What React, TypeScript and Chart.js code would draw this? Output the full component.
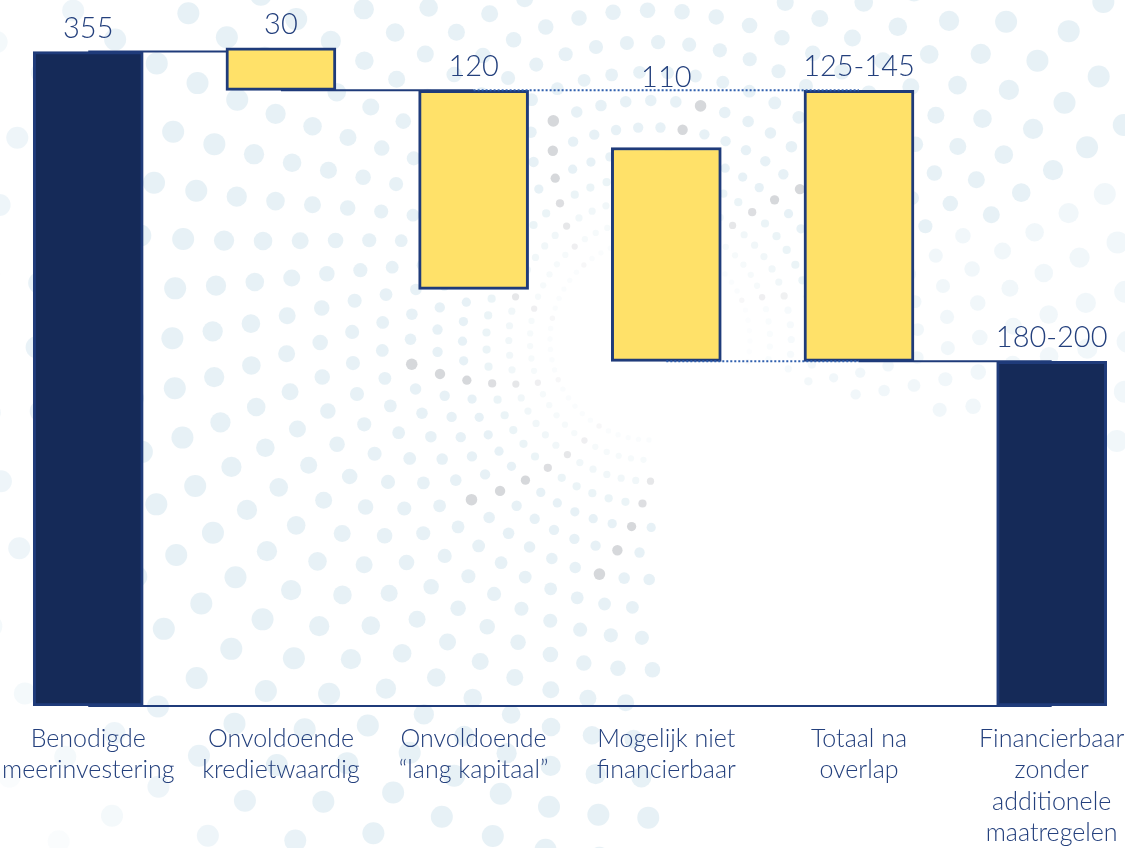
import { useEffect, useRef } from 'react';
import { Chart, registerables } from 'chart.js';

Chart.register(...registerables);

// ---- data ----
const categories: string[][] = [
  ['Benodigde', 'meerinvestering'],
  ['Onvoldoende', 'kredietwaardig'],
  ['Onvoldoende', '\u201Clang kapitaal\u201D'],
  ['Mogelijk niet', 'financierbaar'],
  ['Totaal na', 'overlap'],
  ['Financierbaar', 'zonder', 'additionele', 'maatregelen'],
];
const barLow = [0, 334, 226, 187, 187, 0];
const barHigh = [355, 357, 334, 303, 334, 187];
const valueLabels = ['355', '30', '120', '110', '125-145', '180-200'];
const barKind = ['total', 'change', 'change', 'change', 'change', 'total'];
const connectors = [
  { from: 0, level: 'high', to: 1, dotted: false },
  { from: 1, level: 'low', to: 2, dotted: false },
  { from: 2, level: 'high', to: 4, dotted: true },
  { from: 3, level: 'low', to: 4, dotted: true },
  { from: 4, level: 'low', to: 5, dotted: false },
  { from: 0, level: 'low', to: 5, dotted: false },
];

// ---- styles ----
const NAVY = '#152a58';
const BORDER = '#1f3b7a';
const YELLOW = '#ffe169';
const TEXT = '#24407d';
const DOTTED = '#2f5fae';
const FONT = 'Lato';

function drawDots(ctx: CanvasRenderingContext2D, cx: number, cy: number) {
  const N = 60;
  for (let k = 0; k < N; k++) {
    const a0 = (k / N) * Math.PI * 2;
    let r = 100;
    while (r < 900) {
      const a = a0 + r * 0.0022;
      const x = cx + r * Math.cos(a);
      const y = cy + r * Math.sin(a);
      const deg = (((a * 180) / Math.PI) % 360 + 360) % 360;
      let w = 1;
      if (deg > 15 && deg < 88) w = 0;
      else if (deg >= 340 || deg <= 15) w = 0.6;
      const fade = r > 600 ? Math.max(0, 1 - (r - 600) / 220) : 1;
      const near = r < 180 ? (r - 80) / 100 : 1;
      const alpha = w * fade * near;
      if (alpha > 0.02 && x > -20 && x < 1180 && y > -20 && y < 870) {
        const rad = Math.min(0.5 + r * 0.022, 11);
        ctx.fillStyle =
          r > 90 && r < 260 && k % 6 === 0
            ? `rgba(165,168,175,${0.45 * alpha})`
            : `rgba(208,228,237,${0.5 * alpha})`;
        ctx.beginPath();
        ctx.arc(x, y, rad, 0, Math.PI * 2);
        ctx.fill();
      }
      r = r * 1.06 + 14;
    }
  }
}

const waterfallPlugin = {
  id: 'waterfallDecor',
  beforeDraw(chart: any) {
    const ctx = chart.ctx as CanvasRenderingContext2D;
    ctx.save();
    drawDots(ctx, 665, 340);
    ctx.restore();
  },
  beforeDatasetsDraw(chart: any) {
    const ctx = chart.ctx as CanvasRenderingContext2D;
    const meta = chart.getDatasetMeta(0);
    const ys = chart.scales.y;
    ctx.save();
    ctx.strokeStyle = BORDER;
    ctx.lineWidth = 2;
    connectors.forEach((c) => {
      if (c.dotted) return;
      const v = c.level === 'high' ? barHigh[c.from] : barLow[c.from];
      const y = ys.getPixelForValue(v);
      ctx.beginPath();
      ctx.moveTo(meta.data[c.from].x, y);
      ctx.lineTo(meta.data[c.to].x, y);
      ctx.stroke();
    });
    ctx.restore();
  },
  afterDatasetsDraw(chart: any) {
    const ctx = chart.ctx as CanvasRenderingContext2D;
    const meta = chart.getDatasetMeta(0);
    const ys = chart.scales.y;
    ctx.save();
    ctx.strokeStyle = DOTTED;
    ctx.lineWidth = 2;
    ctx.setLineDash([2, 2]);
    connectors.forEach((c) => {
      if (!c.dotted) return;
      const v = c.level === 'high' ? barHigh[c.from] : barLow[c.from];
      const y = ys.getPixelForValue(v);
      ctx.beginPath();
      ctx.moveTo(meta.data[c.from].x, y);
      ctx.lineTo(meta.data[c.to].x, y);
      ctx.stroke();
    });
    ctx.setLineDash([]);

    ctx.fillStyle = TEXT;
    ctx.font = `300 29px ${FONT}`;
    ctx.textAlign = 'center';
    ctx.textBaseline = 'alphabetic';
    valueLabels.forEach((lab, i) => {
      const top = ys.getPixelForValue(barHigh[i]);
      let anchor = top - 14;
      connectors.forEach((c) => {
        if (c.from < i && c.to > i) {
          const v = c.level === 'high' ? barHigh[c.from] : barLow[c.from];
          const cy = ys.getPixelForValue(v);
          if (cy < top) anchor = Math.min(anchor, cy - 3);
        }
      });
      ctx.fillText(lab, meta.data[i].x, anchor);
    });
    ctx.restore();
  },
};

export default function App() {
  const ref = useRef<HTMLCanvasElement>(null);
  useEffect(() => {
    document.documentElement.style.overflow = 'hidden';
    document.body.style.overflow = 'hidden';
    document.body.style.margin = '0';
    const chart = new Chart(ref.current!, {
      type: 'bar',
      data: {
        labels: categories,
        datasets: [
          {
            data: barLow.map((lo, i) => [lo, barHigh[i]]),
            backgroundColor: barKind.map((k) => (k === 'total' ? NAVY : YELLOW)),
            borderColor: BORDER,
            borderWidth: 3,
            borderSkipped: false,
            barThickness: 110,
          },
        ],
      },
      options: {
        animation: false,
        responsive: true,
        maintainAspectRatio: false,
        layout: { padding: { top: 0, left: 0, right: 0, bottom: -18 } },
        plugins: {
          legend: { display: false },
          tooltip: { enabled: false },
        },
        scales: {
          x: {
            grid: { display: false, drawTicks: false },
            border: { display: false },
            ticks: {
              padding: 17,
              autoSkip: false,
              maxRotation: 0,
              color: TEXT,
              font: { family: FONT, size: 25, weight: '300', lineHeight: 1.26 },
            },
          },
          y: {
            display: false,
            min: 0,
            max: 383,
          },
        },
      },
      plugins: [waterfallPlugin],
    });
    return () => chart.destroy();
  }, []);
  return (
    <div style={{ position: 'absolute', left: -15, top: 0, width: 1163, height: 848 }}>
      <canvas ref={ref} />
    </div>
  );
}
